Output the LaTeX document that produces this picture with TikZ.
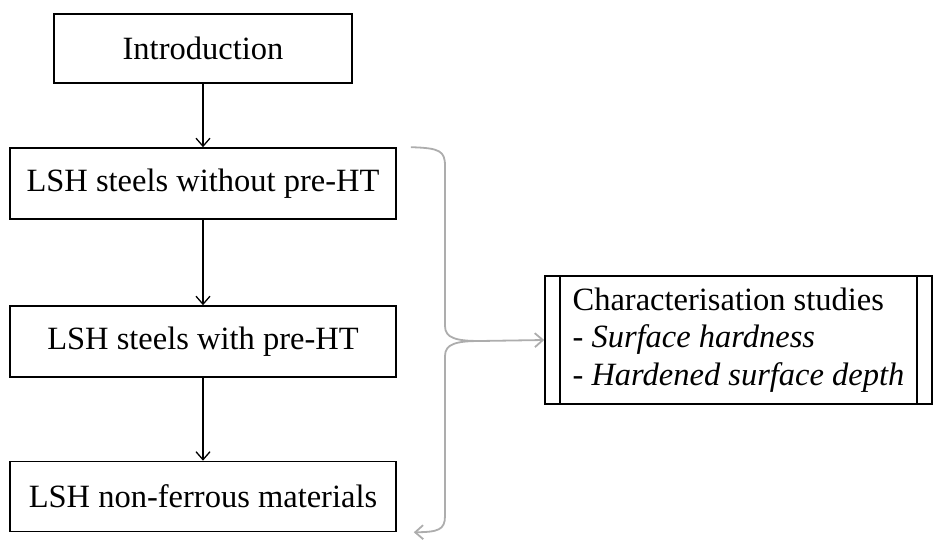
\documentclass[tikz,border=0pt]{standalone}
\usepackage{fontspec}
\setmainfont{Liberation Serif}
\usetikzlibrary{arrows.meta}
\usetikzlibrary{positioning}

\begin{document}
\begin{tikzpicture}[x=1pt,y=-1pt,
    stage/.style={draw,line width=1.6pt,minimum height=70pt,inner sep=0pt,font=\fontsize{32.5}{37.5}\selectfont},
    flow/.style={-{Straight Barb[length=8pt,width=14pt,line width=1.3pt]},line width=1.3pt},
    bracket/.style={draw=black!32,line width=1.8pt}]

    % fix the page size
    \useasboundingbox (0,0) rectangle (946,546);

    % chapter boxes
    \node[stage,minimum width=298pt,minimum height=69pt] (intro) at (203,48.5) {Introduction};
    \node[stage,minimum width=386pt,minimum height=71pt] (nopre) at (203,183.5) {LSH steels without pre-HT};
    \node[stage,minimum width=386pt,minimum height=71pt] (withpre) at (203,341.5) {LSH steels with pre-HT};
    \node[stage,minimum width=386pt] (nonfe) at (203,496.5) {LSH non-ferrous materials};

    % studies box with double sides
    \node[stage,minimum width=387pt,minimum height=128pt,align=left] (charac) at (738.5,340)
        {Characterisation studies\\- \textit{Surface hardness}\\- \textit{Hardened surface depth}};
    \draw[line width=1.6pt] ([xshift=16pt]charac.north west) -- ([xshift=16pt]charac.south west);
    \draw[line width=1.6pt] ([xshift=-16pt]charac.north east) -- ([xshift=-16pt]charac.south east);

    % arrows between chapters
    \draw[flow] (intro) -- (nopre);
    \draw[flow] (nopre) -- (withpre);
    \draw[flow] (withpre) -- (nonfe);

    % grey brace
    \coordinate (bstart) at ([xshift=14pt]nopre.north east);
    \coordinate (tip) at (480,341);
    \coordinate (bend) at ([xshift=17pt]nonfe.south east);
    \draw[bracket] (bstart) .. controls (440,148) and (445,151) .. (445,166) -- (445,326)
        .. controls (445,338) and (456,341) .. (tip);
    \draw[bracket,-{Straight Barb[length=8pt,width=14pt,line width=1.8pt]}] (tip) .. controls (456,341) and (445,344) .. (445,356)
        -- (445,516) .. controls (445,530) and (438,532) .. (bend);
    \draw[bracket,-{Straight Barb[length=8pt,width=14pt,line width=1.8pt]}] (tip) -- (charac.west);

\end{tikzpicture}
\end{document}
